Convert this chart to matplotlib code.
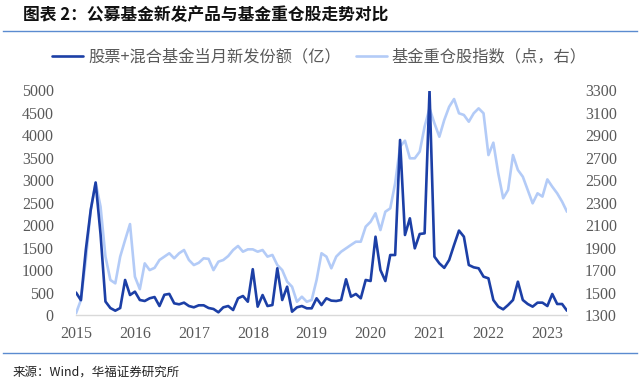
import matplotlib
matplotlib.use("Agg")
import matplotlib.pyplot as plt
from matplotlib.lines import Line2D

plt.rcParams['font.family'] = ['Noto Sans CJK SC', 'DejaVu Sans']

# Monthly, Jan 2015 .. May 2023
new_issuance = [
    500, 330, 1450, 2340, 2950, 1800, 300, 155, 96, 155, 780, 445,      # 2015
    520, 334, 312, 372, 400, 200, 450, 470, 260, 238, 275, 200,          # 2016
    171, 216, 216, 156, 134, 60, 171, 200, 111, 372, 423, 296,           # 2017
    1020, 186, 445, 200, 222, 1040, 334, 630, 74, 171, 200, 149,         # 2018
    149, 372, 222, 372, 320, 312, 334, 795, 408, 468, 372, 780,          # 2019
    757, 1744, 1002, 757, 1336, 1336, 3898, 1782, 2153, 1485, 1804, 1819,  # 2020
    4996, 1300, 1150, 1050, 1225, 1559, 1880, 1744, 1114, 1062, 1040, 854,  # 2021
    817, 334, 186, 126, 222, 334, 742, 334, 245, 186, 275, 275,          # 2022
    200, 468, 245, 245, 96,                                               # 2023
]
fund_index = [
    1315, 1434, 1790, 2235, 2480, 2265, 1820, 1612, 1582, 1820, 1968, 2110,
    1641, 1530, 1760, 1700, 1720, 1790, 1820, 1850, 1805, 1850, 1879, 1790,
    1745, 1765, 1805, 1800, 1700, 1775, 1790, 1825, 1879, 1915, 1864, 1885,
    1885, 1864, 1879, 1820, 1835, 1745, 1700, 1597, 1552, 1418, 1463, 1418,
    1434, 1612, 1850, 1820, 1716, 1820, 1864, 1894, 1924, 1953, 1953, 2087,
    2131, 2206, 2057, 2220, 2250, 2473, 2800, 2853, 2696, 2696, 2755, 2978,
    3141, 3008, 2888, 3037, 3155, 3224, 3097, 3082, 3022, 3097, 3141, 3097,
    2725, 2835, 2562, 2340, 2414, 2725, 2592, 2532, 2414, 2295, 2384, 2355,
    2508, 2443, 2384, 2310, 2220,
]
year_labels = ['2015', '2016', '2017', '2018', '2019', '2020', '2021', '2022', '2023']
left_ticks = [0, 500, 1000, 1500, 2000, 2500, 3000, 3500, 4000, 4500, 5000]
right_ticks = [1300, 1500, 1700, 1900, 2100, 2300, 2500, 2700, 2900, 3100, 3300]
series_names = ['股票+混合基金当月新发份额（亿）', '基金重仓股指数（点，右）']
title_text = '图表 2：公募基金新发产品与基金重仓股走势对比'
source_text = '来源：Wind，华福证券研究所'

W, H = 640, 383
fig = plt.figure(figsize=(W / 100, H / 100), dpi=100)
ax = fig.add_axes([76 / W, 1 - 315 / H, (567 - 76) / W, (315 - 90.5) / H])
ax2 = ax.twinx()

x = list(range(len(new_issuance)))
dark = '#1c3fa6'
light = '#b3cbf7'
l2, = ax2.plot(x, fund_index, color=light, lw=1.9, solid_capstyle='round', solid_joinstyle='round')
l1, = ax.plot(x, new_issuance, color=dark, lw=1.9, solid_capstyle='round', solid_joinstyle='round')
ax.set_zorder(ax2.get_zorder() + 1)
ax.patch.set_visible(False)

ax.set_xlim(0, len(new_issuance) - 1)
ax.set_ylim(0, 5000)
ax2.set_ylim(1300, 3300)

tick_font = dict(family='Liberation Serif', size=11.5)
ax.set_yticks(left_ticks)
ax.set_yticklabels([str(v) for v in left_ticks], fontdict=tick_font, color='#595959')
ax2.set_yticks(right_ticks)
ax2.set_yticklabels([str(v) for v in right_ticks], fontdict=tick_font, color='#595959')
ax.set_xticks([12 * i for i in range(len(year_labels))])
ax.set_xticklabels(year_labels, fontdict=tick_font, color='#595959')

ax.tick_params(axis='y', length=0, pad=16)
ax2.tick_params(axis='y', length=0, pad=13)
ax.tick_params(axis='x', length=0, pad=8)

for a in (ax, ax2):
    for s in ('top', 'left', 'right'):
        a.spines[s].set_visible(False)
    a.spines['bottom'].set_color('#d9d9d9')
    a.spines['bottom'].set_linewidth(1.0)
ax2.spines['bottom'].set_visible(False)

renderer = fig.canvas.get_renderer()


def fit_text(t, target_w):
    for _ in range(3):
        w = t.get_window_extent(renderer).width
        t.set_fontsize(t.get_fontsize() * target_w / w)


title = fig.text(23 / W, 1 - 15 / H, title_text, fontsize=10.5,
                 fontweight='bold', va='center', ha='left', color='#111111')
fit_text(title, 388 - 23)

src = fig.text(13 / W, 1 - 372 / H, source_text, fontsize=8.5, va='center', ha='left',
               color='#222222')
fit_text(src, 180 - 13)

leg_fs = 11.7
for _ in range(3):
    leg = fig.legend([l1, l2], series_names, loc='center', bbox_to_anchor=(319.5 / W, 1 - 57 / H),
                     ncol=2, frameon=False, fontsize=leg_fs, handlelength=1.9, columnspacing=0.95,
                     handletextpad=0.3, labelcolor='#595959', borderpad=0, borderaxespad=0)
    lw = leg.get_window_extent(renderer).width
    if abs(lw - 535) < 1:
        break
    leg.remove()
    leg_fs *= 535 / lw

fig.add_artist(Line2D([3 / W, 637 / W], [1 - 31 / H, 1 - 31 / H], color='#5b8bd0', lw=1.0))
fig.add_artist(Line2D([3 / W, 637 / W], [1 - 353 / H, 1 - 353 / H], color='#5b8bd0', lw=1.0))

fig.savefig('out.png', dpi=100)
